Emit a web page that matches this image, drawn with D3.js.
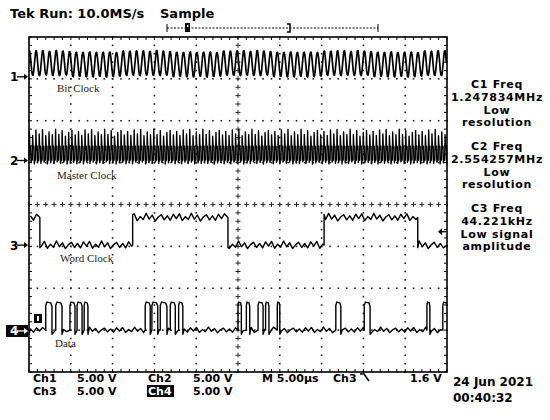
<!DOCTYPE html>
<html><head><meta charset="utf-8">
<script src="https://cdn.jsdelivr.net/npm/d3@7"></script>
<style>
html,body{margin:0;padding:0;background:#fff;}
svg{display:block;}
text{font-family:"DejaVu Sans",Verdana,sans-serif;font-weight:bold;fill:#000;}
text.lbl{font-family:"Liberation Serif","Times New Roman",serif;font-weight:normal;font-size:11px;fill:#222;}
</style></head><body>
<svg id="scope" width="550" height="420"></svg>
<script>
// ---- scope settings (from the readout) ----
const timePerDiv  = 5;      // µs / div
const voltsPerDiv = 5;      // V / div on all four channels
const trigLevel   = 1.6;    // V, Ch3 falling edge
const freqC1 = 1.247834;    // MHz  bit clock
const freqC2 = 2.554257;    // MHz  master clock

// channel ground position (divisions from centre) and trace label
const chIds    = ['1', '2', '3', '4'];
const chPos    = [3.05, 1.05, -0.97, -3.02];
const chLabels = ['Bit Clock', 'Master Clock', 'Word Clock', 'Data'];

// Word clock: edge times (µs), trace starts high
const wordEdges = [1.3, 12.4, 23.8, 35.3, 46.5];
const wordLevels = [0.0, 3.3];           // low / high V

// Data: high pulses [start, end] in µs
const dataPulses = [
  [2.0, 2.75], [3.2, 3.95], [4.9, 5.5], [5.75, 6.35], [6.6, 7.05],
  [13.9, 14.5], [14.7, 15.4], [15.7, 16.5], [16.9, 17.5], [17.9, 18.4],
  [25.0, 25.4], [26.0, 26.4], [27.4, 28.0], [28.3, 28.7], [29.7, 30.0],
  [36.7, 37.3], [40.1, 40.8], [47.6, 47.95], [49.5, 50]
];
const dataLevels = [0.1, 3.45];

// small ripple seen on flat parts of the traces (V)
const ripple = [0.18, -0.3, 0.35, -0.12, 0.4, -0.34, 0.1, -0.22, 0.45, -0.18, 0.25, -0.38, 0.05, 0.3, -0.26];

// right-hand measurement readout
const readout = [
  ['C1 Freq', '1.247834MHz', 'Low', 'resolution'],
  ['C2 Freq', '2.554257MHz', 'Low', 'resolution'],
  ['C3 Freq', '44.221kHz', 'Low signal', 'amplitude']
];
const readoutTop = [88, 150, 212];

// bottom status rows
const statusRow1 = [['Ch1', 33], ['5.00 V', 77], ['Ch2', 148], ['5.00 V', 193], ['M 5.00µs', 262], ['Ch3', 333], ['1.6 V', 410]];
const statusRow2 = [['Ch3', 33], ['5.00 V', 77], ['5.00 V', 193]];

// ---- drawing ----
const svg = d3.select('#scope');
const x = d3.scaleLinear().domain([0, 10 * timePerDiv]).range([29, 447]);
const y = d3.scaleLinear().domain([4, -4]).range([37, 372]);
const yv = (ch, v) => y(chPos[ch] + v / voltsPerDiv);
const line = d3.line().x(d => x(d[0])).y(d => d[1]);

// graticule
const g = svg.append('g').attr('class', 'graticule');
const minor = d3.range(0, 50.001, 1);          // 1/5 div steps in µs
const minorV = d3.range(-4, 4.001, 0.2);
[1, 2, 3, 4, 6, 7, 8, 9].forEach(d => {
  minorV.forEach(v => g.append('rect').attr('x', x(d * 5) - 0.8).attr('y', y(v) - 0.8)
    .attr('width', 1.6).attr('height', 1.6).attr('fill', '#222'));
});
[-3, -2, -1, 1, 2, 3].forEach(v => {
  minor.forEach(t => g.append('rect').attr('x', x(t) - 0.8).attr('y', y(v) - 0.8)
    .attr('width', 1.6).attr('height', 1.6).attr('fill', '#222'));
});
// centre cross with ticks
g.append('line').attr('x1', x(0)).attr('x2', x(50)).attr('y1', y(0)).attr('y2', y(0))
  .attr('stroke', '#333').attr('stroke-width', 1).attr('stroke-dasharray', '5,3.36').attr('stroke-dashoffset', 2.5);
g.append('line').attr('x1', x(25)).attr('x2', x(25)).attr('y1', y(4)).attr('y2', y(-4))
  .attr('stroke', '#333').attr('stroke-width', 1).attr('stroke-dasharray', '5,3.37').attr('stroke-dashoffset', 2.5);
minor.forEach(t => g.append('line').attr('x1', x(t)).attr('x2', x(t)).attr('y1', y(0) - 2.5).attr('y2', y(0) + 2.5)
  .attr('stroke', '#222').attr('stroke-width', 1));
minorV.forEach(v => g.append('line').attr('x1', x(25) - 2.5).attr('x2', x(25) + 2.5).attr('y1', y(v)).attr('y2', y(v))
  .attr('stroke', '#222').attr('stroke-width', 1));
// edge ticks
minor.forEach(t => {
  g.append('line').attr('x1', x(t)).attr('x2', x(t)).attr('y1', y(4)).attr('y2', y(4) + 3).attr('stroke', '#000');
  g.append('line').attr('x1', x(t)).attr('x2', x(t)).attr('y1', y(-4)).attr('y2', y(-4) - 3).attr('stroke', '#000');
});
minorV.forEach(v => {
  g.append('line').attr('x1', x(0)).attr('x2', x(0) + 3).attr('y1', y(v)).attr('y2', y(v)).attr('stroke', '#000');
  g.append('line').attr('x1', x(50)).attr('x2', x(50) - 3).attr('y1', y(v)).attr('y2', y(v)).attr('stroke', '#000');
});
g.append('rect').attr('x', x(0)).attr('y', y(4)).attr('width', x(50) - x(0)).attr('height', y(-4) - y(4))
  .attr('fill', 'none').attr('stroke', '#000').attr('stroke-width', 1.6);

// ---- traces ----
const tr = svg.append('g').attr('fill', 'none').attr('stroke', '#000').attr('stroke-width', 1.4)
  .attr('stroke-linejoin', 'round');

// Ch1 bit clock: sampled at the measured frequency
const p1 = 1 / freqC1;
const bitPts = [];
let k = 0;
for (let t = 0; t <= 50; t += p1 / 10, k++) {
  const amp = 1.5 + ripple[Math.floor(k / 5) % ripple.length] * 0.3;
  bitPts.push([t, yv(0, 1.55 + amp * Math.sin(2 * Math.PI * freqC1 * t + 1.2))]);
}
tr.append('path').attr('d', line(bitPts)).attr('stroke-width', 1.7);

// Ch2 master clock: square wave with overshoot
const p2 = 1 / freqC2;
const mPts = [];
k = 0;
for (let t0 = 0; t0 < 50; t0 += p2, k++) {
  const r = ripple[k % ripple.length];
  mPts.push([t0, yv(1, 0.05)]);
  mPts.push([t0 + 0.12 * p2, yv(1, 3.3 + r)]);
  mPts.push([t0 + 0.25 * p2, yv(1, 1.5 - r * 0.5)]);
  mPts.push([t0 + 0.5 * p2, yv(1, 1.7)]);
  mPts.push([t0 + 0.62 * p2, yv(1, -0.3 + r * 0.3)]);
  mPts.push([t0 + 0.8 * p2, yv(1, 0.1)]);
}
tr.append('path').attr('d', line(mPts.filter(d => d[0] <= 50)));

// Ch3 word clock
function stepTrace(ch, edges, levels, startHigh, step) {
  const pts = [];
  const bounds = [0, ...edges, 50];
  let high = startHigh, n = 0;
  for (let i = 0; i < bounds.length - 1; i++) {
    const a = bounds[i], b = bounds[i + 1];
    const base = high ? levels[1] : levels[0];
    if (i > 0) pts.push([a, yv(ch, high ? base + 0.35 : base - 0.3)]);
    for (let t = a + step / 2; t < b - step / 4; t += step, n++) {
      pts.push([t, yv(ch, base + ripple[n % ripple.length] * 1.1)]);
    }
    pts.push([b, yv(ch, base)]);
    high = !high;
  }
  return pts;
}
tr.append('path').attr('d', line(stepTrace(2, wordEdges, wordLevels, true, 0.36)));

// Ch4 data
const dataEdges = dataPulses.flat();
const dataPts = [];
{
  const bounds = [0, ...dataEdges, 50];
  let n = 0;
  for (let i = 0; i < bounds.length - 1; i++) {
    const a = bounds[i], b = bounds[i + 1];
    const high = i % 2 === 1;
    if (b - a <= 0) continue;
    if (high) {
      const lv = dataLevels[1];
      dataPts.push([a, yv(3, lv - 0.4)]);
      dataPts.push([a + (b - a) * 0.2, yv(3, lv)]);
      dataPts.push([a + (b - a) * 0.8, yv(3, lv - 0.1)]);
      dataPts.push([b, yv(3, lv - 0.5)]);
    } else {
      const lv = dataLevels[0];
      dataPts.push([a, yv(3, lv - 0.5)]);
      for (let t = a + 0.18; t < b - 0.1; t += 0.36, n++) {
        dataPts.push([t, yv(3, lv + ripple[n % ripple.length] * 0.8)]);
      }
      dataPts.push([b, yv(3, lv)]);
    }
  }
}
tr.append('path').attr('d', line(dataPts));

// trace labels
const lblPos = [[57, 92], [57, 179], [60, 262], [55, 347]];
chLabels.forEach((s, i) => svg.append('text').attr('class', 'lbl')
  .attr('x', lblPos[i][0]).attr('y', lblPos[i][1]).text(s));

// channel ground markers
chIds.forEach((id, i) => {
  const gy = y(chPos[i]);
  const inv = id === '4';
  if (inv) svg.append('rect').attr('x', 6).attr('y', gy - 6).attr('width', 22).attr('height', 12).attr('fill', '#000');
  const col = inv ? '#fff' : '#000';
  svg.append('text').attr('x', 10).attr('y', gy + 4.5).attr('font-size', 12).style('fill', col).text(id);
  svg.append('line').attr('x1', 17).attr('x2', 25).attr('y1', gy).attr('y2', gy).attr('stroke', col).attr('stroke-width', 1.3);
  svg.append('path').attr('d', `M24,${gy - 3}L28,${gy}L24,${gy + 3}Z`).attr('fill', col);
});

// small reference box on the data trace
svg.append('rect').attr('x', 34).attr('y', 314).attr('width', 8).attr('height', 9).attr('fill', '#000');
svg.append('rect').attr('x', 37).attr('y', 316).attr('width', 2).attr('height', 5).attr('fill', '#fff');

// trigger level arrow on Ch3
{
  const ty = yv(2, trigLevel);
  svg.append('line').attr('x1', 440).attr('x2', 446).attr('y1', ty).attr('y2', ty).attr('stroke', '#000').attr('stroke-width', 1.3);
  svg.append('path').attr('d', `M442,${ty - 3.5}L438,${ty}L442,${ty + 3.5}Z`).attr('fill', '#000');
}

// record position bar at the top
{
  const by = 28;
  svg.append('line').attr('x1', 167).attr('x2', 378).attr('y1', by).attr('y2', by)
    .attr('stroke', '#000').attr('stroke-width', 1).attr('stroke-dasharray', '2,1.5');
  [167, 378].forEach(px => svg.append('line').attr('x1', px).attr('x2', px).attr('y1', by - 4).attr('y2', by + 4)
    .attr('stroke', '#000').attr('stroke-width', 1));
  svg.append('path').attr('d', `M287,${by - 4}H290V${by + 4}H287`).attr('fill', 'none').attr('stroke', '#000').attr('stroke-width', 1.5);
  svg.append('rect').attr('x', 185).attr('y', by - 5).attr('width', 5).attr('height', 9).attr('fill', '#000');
  svg.append('rect').attr('x', 187).attr('y', by - 3).attr('width', 1.5).attr('height', 2).attr('fill', '#fff');
}

// header
svg.append('text').attr('x', 10).attr('y', 18).attr('font-size', 13).text('Tek Run: 10.0MS/s');
svg.append('text').attr('x', 160).attr('y', 18).attr('font-size', 13).text('Sample');

// readout on the right
readout.forEach((lines, i) => {
  lines.forEach((s, j) => svg.append('text').attr('x', 497).attr('y', readoutTop[i] + (j === 0 ? 0 : 13 + (j - 1) * 12.5))
    .attr('text-anchor', 'middle').attr('font-size', 11).attr('letter-spacing', 0.7).text(s));
});

// status rows
statusRow1.forEach(([s, px]) => svg.append('text').attr('x', px).attr('y', 382).attr('font-size', 11).text(s));
statusRow2.forEach(([s, px]) => svg.append('text').attr('x', px).attr('y', 395).attr('font-size', 11).text(s));
svg.append('rect').attr('x', 147).attr('y', 385).attr('width', 27).attr('height', 12).attr('fill', '#000');
svg.append('text').attr('x', 148).attr('y', 395).attr('font-size', 11).style('fill', '#fff').text('Ch4');
svg.append('path').attr('d', 'M360,374H364L369,381').attr('fill', 'none').attr('stroke', '#000').attr('stroke-width', 1.6);

// date / time
svg.append('text').attr('x', 453).attr('y', 386).attr('font-size', 12).text('24 Jun 2021');
svg.append('text').attr('x', 453).attr('y', 402).attr('font-size', 12).text('00:40:32');
</script>
</body></html>
